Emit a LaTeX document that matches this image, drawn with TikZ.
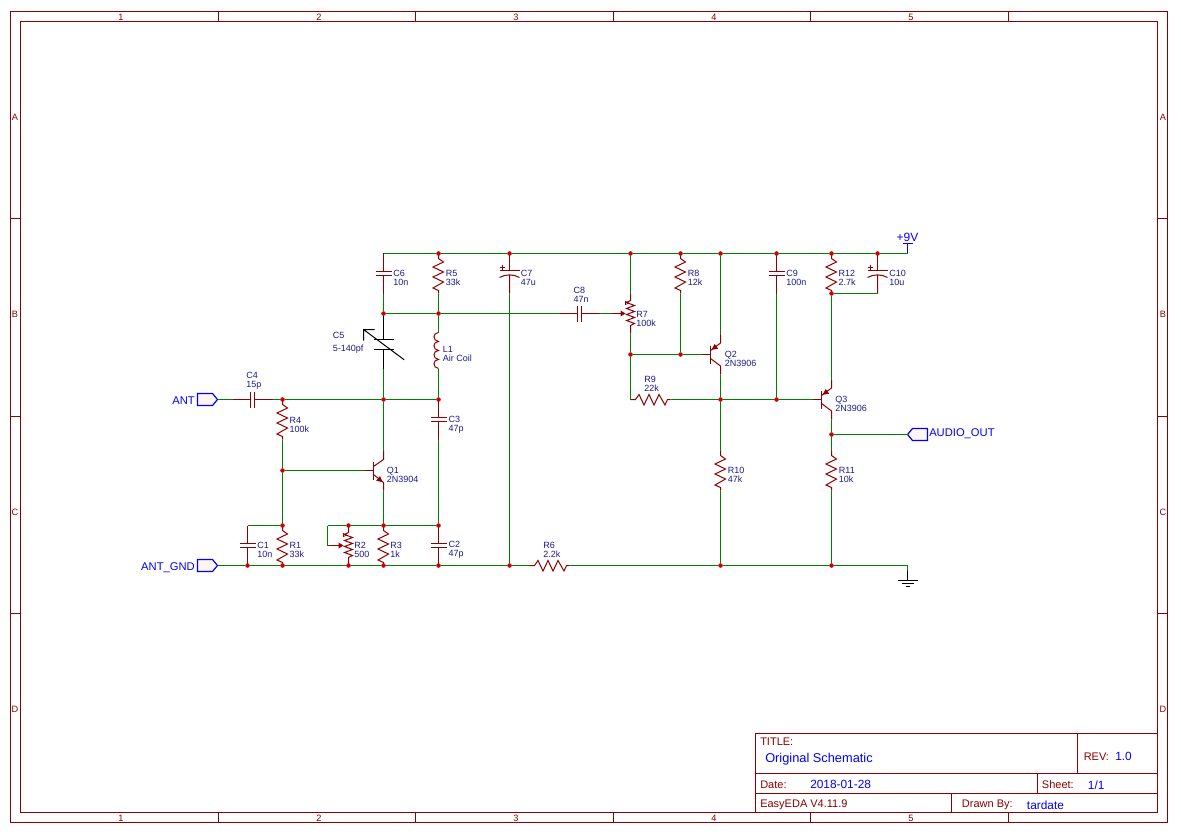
\documentclass[tikz,border=0pt]{standalone}
\usepackage{fontspec}
\setmainfont{Liberation Sans}
\definecolor{wirecol}{HTML}{008000}
\definecolor{partcol}{HTML}{8B0000}
\definecolor{dotcol}{HTML}{CC0000}
\definecolor{lblcol}{HTML}{1A1A8C}
\definecolor{netcol}{HTML}{0000FF}
\definecolor{flagcol}{HTML}{FFF5F5}
\tikzset{
  wire/.style={color=wirecol,line width=.85pt},
  part/.style={color=partcol,line width=.75pt,line join=miter},
  dot/.style={shape=circle,fill=dotcol,inner sep=0pt,minimum size=3.4pt},
  lbl/.style={anchor=west,inner sep=0pt,align=left,text=lblcol,yshift=-.5pt,font=\fontsize{6.75}{6.9}\selectfont},
  net/.style={inner sep=0pt,text=netcol,font=\fontsize{8.4}{9}\selectfont},
  frm/.style={inner sep=0pt,text=partcol,font=\fontsize{6.9}{8}\selectfont},
  ttl/.style={anchor=west,inner sep=0pt,text=partcol,yshift=-.6pt,font=\fontsize{8.25}{9}\selectfont},
  val/.style={anchor=west,inner sep=0pt,text=netcol,yshift=-.6pt,font=\fontsize{8.9}{10}\selectfont},
  resv/.pic={
    \coordinate (-a) at (0,-20);
    \coordinate (-b) at (0,20);
    \draw[part] (0,-20)--(0,-15)--(5,-11.5)--(-5.5,-6.5)--(5,-1.5)--(-5.5,3.5)--(5,8.5)--(-5.5,14.5)--(0,17)--(0,20);
  },
  potv/.pic={
    \coordinate (-a) at (0,-20);
    \coordinate (-b) at (0,20);
    \coordinate (-w) at (-20,0);
    \draw[part] (0,-20)--(0,-13)--(-4,-11)--(4,-8)--(-4,-5)--(4,-2)--(-4,1)--(4,4)--(-4,7)--(4,10)--(0,12)--(0,20);
    \draw[part] (-20,0)--(-9,0);
    \fill[partcol] (-5,0)--(-10,-3)--(-10,3)--cycle;
    \draw[part,line width=.5pt] (-5,-12)--(-2,-10.5)--(-5,-9)--cycle;
  },
  capv/.pic={
    \coordinate (-a) at (0,-20);
    \coordinate (-b) at (0,20);
    \draw[part] (0,-20)--(0,-2) (-8,-2)--(8,-2);
    \draw[part] (0,20)--(0,2) (-8,2)--(8,2);
  },
  capp/.pic={
    \coordinate (-a) at (0,-20);
    \coordinate (-b) at (0,20);
    \draw[part] (0,-20)--(0,-3) (-10,-3)--(10,-3);
    \draw[part] (0,20)--(0,1) (-10,4)..controls (-4,.5) and (4,.5)..(10,4);
    \draw[part,line width=.6pt] (-10,-6)--(-5,-6) (-7.5,-8.5)--(-7.5,-3.5);
  },
  trimv/.pic={
    \coordinate (-a) at (0,-31);
    \coordinate (-b) at (0,24);
    \draw[line width=.75pt] (0,-31)--(0,-5) (-10,-5)--(10,-5);
    \draw[line width=.75pt] (0,24)--(0,5) (-10,5)--(10,5);
    \draw[line width=.75pt] (-9,-15)--(-20,-15)--(-20,-4) (-20,-15)--(20.7,15.3);
  },
  coilv/.pic={
    \coordinate (-a) at (0,-18);
    \coordinate (-b) at (0,18);
    \draw[part] (0,-18)..controls (-6,-18) and (-6,-9.5)..(0,-9)
      ..controls (-6,-9) and (-6,-.5)..(0,0)
      ..controls (-6,0) and (-6,8.5)..(0,9)
      ..controls (-6,9) and (-6,17.5)..(0,18);
  },
  npnq/.pic={
    \coordinate (-b) at (-9,0);
    \coordinate (-c) at (10,-20);
    \coordinate (-e) at (10,20);
    \draw[part] (-9,0)--(0,0) (0,-9)--(0,9);
    \draw[part] (0,-4)--(10,-11)--(10,-20);
    \draw[part] (0,4)--(10,12)--(10,20);
    \fill[partcol] (9.2,11.7)--(2.7,10.2)--(6.5,5.6)--cycle;
  },
  pnpq/.pic={
    \coordinate (-b) at (-9,0);
    \coordinate (-c) at (10,-20);
    \coordinate (-e) at (10,20);
    \draw[part] (-9,0)--(0,0) (0,-9)--(0,9);
    \draw[part] (0,-4)--(10,-11.5)--(10,-20);
    \draw[part] (0,4)--(10,11.5)--(10,20);
    \fill[partcol] (1,-4.7)--(7.6,-5.8)--(4.2,-10.6)--cycle;
  },
  flagp/.pic={
    \coordinate (-p) at (0,0);
    \draw[netcol,fill=flagcol,line width=.9pt] (0,0)--(-5,-6)--(-20,-6)--(-20,6)--(-5,6)--cycle;
  },
  gndp/.pic={
    \coordinate (-t) at (0,-10);
    \draw[line width=.75pt] (0,-10)--(0,0) (-10,0)--(10,0) (-6,3)--(6,3) (-2,6)--(2,6);
  }
}
\begin{document}
\begin{tikzpicture}[x=.75pt,y=-.75pt]
\useasboundingbox (0,0) rectangle (1181,834);

% sheet frame
\draw[part] (10.5,11.5) rectangle (1167.5,822.5);
\draw[part] (20.5,21.5) rectangle (1157.5,812.5);
\draw[part] (218.5,11.5)--(218.5,21.5) (415.5,11.5)--(415.5,21.5) (613.5,11.5)--(613.5,21.5) (810.5,11.5)--(810.5,21.5) (1008.5,11.5)--(1008.5,21.5);
\draw[part] (218.5,812.5)--(218.5,822.5) (415.5,812.5)--(415.5,822.5) (613.5,812.5)--(613.5,822.5) (810.5,812.5)--(810.5,822.5) (1008.5,812.5)--(1008.5,822.5);
\draw[part] (10.5,218.5)--(20.5,218.5) (10.5,416.5)--(20.5,416.5) (10.5,613.5)--(20.5,613.5);
\draw[part] (1157.5,218.5)--(1167.5,218.5) (1157.5,416.5)--(1167.5,416.5) (1157.5,613.5)--(1167.5,613.5);

\node(top1) at (121,17)[frm]{1};
\node(top2) at (319,17)[frm]{2};
\node(top3) at (516,17)[frm]{3};
\node(top4) at (714,17)[frm]{4};
\node(top5) at (911,17)[frm]{5};
\node(bot1) at (121,818)[frm]{1};
\node(bot2) at (319,818)[frm]{2};
\node(bot3) at (516,818)[frm]{3};
\node(bot4) at (714,818)[frm]{4};
\node(bot5) at (911,818)[frm]{5};
\node(lefta) at (15,117)[frm]{A};
\node(leftb) at (15,314)[frm]{B};
\node(leftc) at (15,512)[frm]{C};
\node(leftd) at (15,709)[frm]{D};
\node(righta) at (1163,117)[frm]{A};
\node(rightb) at (1163,314)[frm]{B};
\node(rightc) at (1163,512)[frm]{C};
\node(rightd) at (1163,709)[frm]{D};

% title block
\draw[part,fill=white] (755.5,733.5) rectangle (1157.5,812.5);
\draw[part] (755.5,773.5)--(1157.5,773.5) (755.5,793.5)--(1157.5,793.5);
\draw[part] (1077.5,733.5)--(1077.5,773.5) (1037.5,773.5)--(1037.5,793.5) (951.5,793.5)--(951.5,812.5);
\node(title) at (760,741)[ttl]{TITLE:};
\node(name) at (765,758.5)[val,font=\fontsize{9.6}{10}\selectfont]{Original Schematic};
\node(rev) at (1083.5,755.5)[ttl]{REV:};
\node(revno) at (1115,755.5)[val]{1.0};
\node(date) at (760,784)[ttl]{Date:};
\node(dateno) at (810,784)[val]{2018-01-28};
\node(sheet) at (1041.7,784)[ttl]{Sheet:};
\node(sheetno) at (1087.7,784)[val]{1/1};
\node(eda) at (760,804)[ttl]{EasyEDA V4.11.9};
\node(drawn) at (961.7,804)[ttl]{Drawn By:};
\node(drawnby) at (1026.7,804)[val]{tardate};

% parts
\pic(r1) at (282.5,545.5) {resv};
\pic(r2) at (348.5,545.5) {potv};
\pic(r3) at (383.5,545.5) {resv};
\pic(r4) at (282.5,419.5) {resv};
\pic(r5) at (438.5,273.5) {resv};
\pic(r6) at (549.5,565.5)[rotate=90] {resv};
\pic(r7) at (630.5,313.5) {potv};
\pic(r8) at (680.5,273.5) {resv};
\pic(r9) at (650.5,399.5)[rotate=90] {resv};
\pic(r10) at (720.5,470.5) {resv};
\pic(r11) at (831.5,470.5) {resv};
\pic(r12) at (831.5,273.5) {resv};
\pic(c1) at (247.5,545.5) {capv};
\pic(c2) at (438.5,545.5) {capv};
\pic(c3) at (438.5,419.5) {capv};
\pic(c4) at (252.5,399.5)[rotate=90] {capv};
\pic(c5) at (383.5,344.5) {trimv};
\pic(c6) at (383.5,273.5) {capv};
\pic(c7) at (509.5,273.5) {capp};
\pic(c8) at (579.5,313.5)[rotate=90] {capv};
\pic(c9) at (776.5,273.5) {capv};
\pic(c10) at (877.5,273.5) {capp};
\pic(l1) at (438.5,350.5) {coilv};
\pic(q1) at (373.5,470.5) {npnq};
\pic(q2) at (710.5,354.5) {pnpq};
\pic(q3) at (821.5,399.5) {pnpq};
\pic(ant) at (217.5,399.5) {flagp};
\pic(antgnd) at (217.5,565.5) {flagp};
\pic(audio) at (907.5,434.5)[xscale=-1] {flagp};
\pic(gnd) at (907.5,580.5) {gndp};

% junctions
\node(t1) at (438.5,253.5)[dot]{};
\node(t2) at (509.5,253.5)[dot]{};
\node(t3) at (630.5,253.5)[dot]{};
\node(t4) at (680.5,253.5)[dot]{};
\node(t5) at (720.5,253.5)[dot]{};
\node(t6) at (776.5,253.5)[dot]{};
\node(t7) at (831.5,253.5)[dot]{};
\node(t8) at (877.5,253.5)[dot]{};
\node(m1) at (383.5,313.5)[dot]{};
\node(m2) at (438.5,313.5)[dot]{};
\node(a1) at (282.5,399.5)[dot]{};
\node(a2) at (383.5,399.5)[dot]{};
\node(a3) at (438.5,399.5)[dot]{};
\node(k1) at (282.5,470.5)[dot]{};
\node(e1) at (282.5,525.5)[dot]{};
\node(e2) at (348.5,525.5)[dot]{};
\node(e3) at (383.5,525.5)[dot]{};
\node(e4) at (438.5,525.5)[dot]{};
\node(g1) at (247.5,565.5)[dot]{};
\node(g2) at (282.5,565.5)[dot]{};
\node(g3) at (348.5,565.5)[dot]{};
\node(g4) at (383.5,565.5)[dot]{};
\node(g5) at (438.5,565.5)[dot]{};
\node(g6) at (509.5,565.5)[dot]{};
\node(g7) at (720.5,565.5)[dot]{};
\node(g8) at (831.5,565.5)[dot]{};
\node(b1) at (630.5,354.5)[dot]{};
\node(b2) at (680.5,354.5)[dot]{};
\node(o1) at (720.5,399.5)[dot]{};
\node(o2) at (776.5,399.5)[dot]{};
\node(s1) at (831.5,293.5)[dot]{};
\node(s2) at (831.5,434.5)[dot]{};

\coordinate(railstart) at (383.5,253.5);
\coordinate(railend) at (907.5,253.5);
\coordinate(vcctop) at (907.5,243.5);
\coordinate(gndend) at (907.5,565.5);
\coordinate(c1top) at (247.5,525.5);
\coordinate(r2loop) at (327.5,525.5);
\coordinate(r2side) at (327.5,545.5);
\coordinate(r9side) at (630.5,399.5);

% nets
\path [wire]
  (railstart) edge (t1)
  (t1)        edge (t2)
  (t2)        edge (t3)
  (t3)        edge (t4)
  (t4)        edge (t5)
  (t5)        edge (t6)
  (t6)        edge (t7)
  (t7)        edge (t8)
  (t8)        edge (railend)
  (c6-b)      edge (m1)
  (r5-b)      edge (m2)
  (m1)        edge (m2)
  (m2)        edge (l1-a)
  (m2)        edge (c8-a)
  (l1-b)      edge (a3)
  (c3-b)      edge (e4)
  (c5-b)      edge (a2)
  (a2)        edge (q1-c)
  (q1-e)      edge (e3)
  (ant-p)     edge (c4-a)
  (c4-b)      edge (a1)
  (a1)        edge (a2)
  (a2)        edge (a3)
  (r4-b)      edge (k1)
  (k1)        edge (q1-b)
  (k1)        edge (e1)
  (c1top)     edge (e1)
  (r2loop)    edge (e2)
  (e2)        edge (e3)
  (e3)        edge (e4)
  (r2loop)    edge (r2side)
  (r2side)    edge (r2-w)
  (antgnd-p)  edge (g1)
  (g1)        edge (g2)
  (g2)        edge (g3)
  (g3)        edge (g4)
  (g4)        edge (g5)
  (g5)        edge (g6)
  (g6)        edge (r6-a)
  (r6-b)      edge (g7)
  (g7)        edge (g8)
  (g8)        edge (gndend)
  (gndend)    edge (gnd-t)
  (c7-b)      edge (g6)
  (c8-b)      edge (r7-w)
  (t3)        edge (r7-a)
  (r7-b)      edge (b1)
  (b1)        edge (b2)
  (b2)        edge (q2-b)
  (r8-b)      edge (b2)
  (b1)        edge (r9side)
  (r9side)    edge (r9-a)
  (r9-b)      edge (o1)
  (o1)        edge (o2)
  (o2)        edge (q3-b)
  (t5)        edge (q2-c)
  (q2-e)      edge (o1)
  (o1)        edge (r10-a)
  (r10-b)     edge (g7)
  (c9-b)      edge (o2)
  (s1)        edge (c10-b)
  (s1)        edge (q3-c)
  (q3-e)      edge (s2)
  (s2)        edge (r11-a)
  (r11-b)     edge (g8)
  (s2)        edge (audio-p);

\draw[netcol,line width=.9pt] (railend)--(vcctop);
\draw[netcol,line width=.9pt] (902.5,243.5)--(912.5,243.5);

% labels
\node(vcc) at (907.5,237)[net,font=\fontsize{9}{10}\selectfont]{+9V};
\node(antl) at (195,404)[net,anchor=base east]{ANT};
\node(antgndl) at (195,570)[net,anchor=base east]{ANT\_GND};
\node(audiol) at (929,436)[net,anchor=base west]{AUDIO\_OUT};
\node(r1l) at (289.3,549)[lbl]{R1\\33k};
\node(r2l) at (354,549)[lbl]{R2\\500};
\node(r3l) at (390,549)[lbl]{R3\\1k};
\node(r4l) at (289.3,424)[lbl]{R4\\100k};
\node(r5l) at (445.7,277)[lbl]{R5\\33k};
\node(r6l) at (543,549.5)[lbl]{R6\\2.2k};
\node(r7l) at (636,318)[lbl]{R7\\100k};
\node(r8l) at (687.7,277)[lbl]{R8\\12k};
\node(r9l) at (644,383)[lbl]{R9\\22k};
\node(r10l) at (727.7,474)[lbl]{R10\\47k};
\node(r11l) at (838.7,474)[lbl]{R11\\10k};
\node(r12l) at (838.3,277)[lbl]{R12\\2.7k};
\node(c1l) at (257,549)[lbl]{C1\\10n};
\node(c2l) at (448.3,549)[lbl]{C2\\47p};
\node(c3l) at (448.3,424)[lbl]{C3\\47p};
\node(c4l) at (246,380.5)[lbl]{C4\\15p};
\node(c5l) at (332.7,334.3)[lbl]{C5};
\node(c5v) at (332.7,349)[lbl]{5-140pf};
\node(c6l) at (393,277)[lbl]{C6\\10n};
\node(c7l) at (520.7,277)[lbl]{C7\\47u};
\node(c8l) at (573.3,294)[lbl]{C8\\47n};
\node(c9l) at (786,277)[lbl]{C9\\100n};
\node(c10l) at (889,277)[lbl]{C10\\10u};
\node(l1l) at (442.7,353.5)[lbl]{L1\\Air Coil};
\node(q1l) at (386.7,474)[lbl]{Q1\\2N3904};
\node(q2l) at (724.7,358)[lbl]{Q2\\2N3906};
\node(q3l) at (835,403)[lbl]{Q3\\2N3906};

\end{tikzpicture}
\end{document}
